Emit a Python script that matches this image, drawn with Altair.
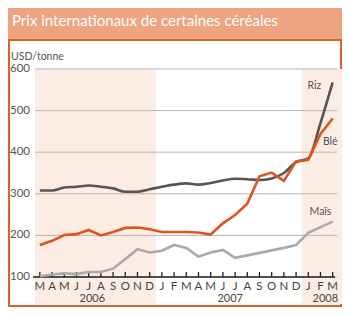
import altair as alt
import pandas as pd

# ---- data ----
months = ["M", "A", "M", "J", "J", "A", "S", "O", "N", "D",
          "J", "F", "M", "A", "M", "J", "J", "A", "S", "O", "N", "D",
          "J", "F", "M"]
riz = [308, 308, 315, 317, 320, 317, 313, 305, 305, 311,
       317, 322, 325, 322, 326, 332, 336, 335, 333, 337, 350, 376,
       385, 470, 568]
ble = [177, 187, 201, 203, 213, 200, 208, 218, 219, 215,
       208, 208, 208, 207, 202, 229, 249, 276, 342, 351, 331, 378,
       382, 444, 481]
mais = [102, 106, 109, 107, 112, 112, 120, 143, 167, 159,
        163, 177, 170, 149, 159, 165, 146, 152, 158, 164, 170, 177,
        206, 220, 233]
years = ["2006", "2007", "2008"]
year_pos = [4.3, 15.6, 23.4]
shade_start = [-0.4, 21.45]
shade_end = [9.5, 24.8]
y_ticks = [100, 200, 300, 400, 500, 600]
y_labels = ["100", "200", "300", "400", "500", "600"]
series_names = ["Riz", "Blé", "Maïs"]
label_x = [22.5, 23.8, 23.0]
label_y = [560, 425, 257]
title_text = "Prix internationaux de certaines céréales"
unit_text = "USD/tonne"

# ---- layout / style ----
W, H = 305, 208
FONT = "Lato"
X_DOMAIN = [-0.4, 24.6]
xs = alt.Scale(domain=X_DOMAIN, nice=False, zero=False)
ys = alt.Scale(domain=[100, 600], nice=False, zero=False)

idx = list(range(len(months)))
df_m = pd.DataFrame({"i": idx, "m": months})
df_lines = {
    "Riz": pd.DataFrame({"i": idx, "v": riz}),
    "Blé": pd.DataFrame({"i": idx, "v": ble}),
    "Maïs": pd.DataFrame({"i": idx, "v": mais}),
}
df_y = pd.DataFrame({"v": y_ticks, "t": y_labels})
df_years = pd.DataFrame({"i": year_pos, "t": years})
df_shade = pd.DataFrame({"a": shade_start, "b": shade_end})
df_lab = pd.DataFrame({"i": label_x, "v": label_y, "t": series_names})
one = pd.DataFrame({"k": [0]})

title_bar = alt.Chart(one).mark_rect(color="#EEA47F").encode(
    x=alt.value(-27), x2=alt.value(W + 2), y=alt.value(-61), y2=alt.value(-29))
panel = alt.Chart(one).mark_rect(fill="white", stroke="#E0602A", strokeWidth=2).encode(
    x=alt.value(-26), x2=alt.value(W + 1), y=alt.value(-29), y2=alt.value(H + 29))
title = alt.Chart(one).mark_text(
    text=title_text, align="left", baseline="middle", font=FONT,
    fontSize=15, color="white").encode(x=alt.value(-23), y=alt.value(-48))
unit = alt.Chart(one).mark_text(
    text=unit_text, align="left", baseline="middle", font=FONT,
    fontSize=10.5, color="#555555").encode(x=alt.value(-24), y=alt.value(-12))

shade = alt.Chart(df_shade).mark_rect(color="#FBEDE3").encode(
    x=alt.X("a:Q", scale=xs, axis=None), x2="b:Q",
    y=alt.value(0), y2=alt.value(H + 27))

grid = alt.Chart(df_y).mark_rule(color="#B5B5B5", strokeWidth=1).encode(
    y=alt.Y("v:Q", scale=ys, axis=None),
    x=alt.value(0), x2=alt.value(W - 3))

ytext = alt.Chart(df_y).mark_text(
    font=FONT, fontSize=11.5, color="#555555", align="right", baseline="middle").encode(
    y=alt.Y("v:Q", scale=ys, axis=None), x=alt.value(-5), text="t:N")

base_rule = alt.Chart(df_y[df_y.v == y_ticks[0]]).mark_rule(
    color="#222222", strokeWidth=1.5).encode(
    y=alt.Y("v:Q", scale=ys, axis=None), x=alt.value(-2), x2=alt.value(W - 5))

ticks = alt.Chart(df_m).mark_rule(color="#222222", strokeWidth=1.3).encode(
    x=alt.X("i:Q", scale=xs, axis=None), y=alt.value(H - 5), y2=alt.value(H))

mlabels = alt.Chart(df_m).mark_text(
    font=FONT, fontSize=11.5, color="#444444", baseline="middle").encode(
    x=alt.X("i:Q", scale=xs, axis=None), y=alt.value(H + 10), text="m:N")

ylabels = alt.Chart(df_years).mark_text(
    font=FONT, fontSize=11, color="#444444", baseline="middle").encode(
    x=alt.X("i:Q", scale=xs, axis=None), y=alt.value(H + 22), text="t:N")

def line(name, color, interp="linear"):
    return alt.Chart(df_lines[name]).mark_line(
        color=color, strokeWidth=2.6, interpolate=interp).encode(
        x=alt.X("i:Q", scale=xs, axis=None),
        y=alt.Y("v:Q", scale=ys, axis=None))

l_mais = line("Maïs", "#AAAAAA")
l_riz = line("Riz", "#555555", "monotone")
l_ble = line("Blé", "#E0531E")

slabels = alt.Chart(df_lab).mark_text(
    font=FONT, fontSize=10.5, color="#555555", baseline="middle").encode(
    x=alt.X("i:Q", scale=xs, axis=None),
    y=alt.Y("v:Q", scale=ys, axis=None), text="t:N")

chart = alt.layer(
    title_bar, panel, title, unit, shade, grid, ytext, base_rule, ticks,
    mlabels, ylabels, l_mais, l_riz, l_ble, slabels
).properties(
    width=W, height=H,
    autosize=alt.AutoSizeParams(type="none"),
    padding={"left": 27, "top": 61, "right": 2, "bottom": 30},
).configure_view(stroke=None)

chart.save("out.html", embed_options={"renderer": "svg", "actions": False})
